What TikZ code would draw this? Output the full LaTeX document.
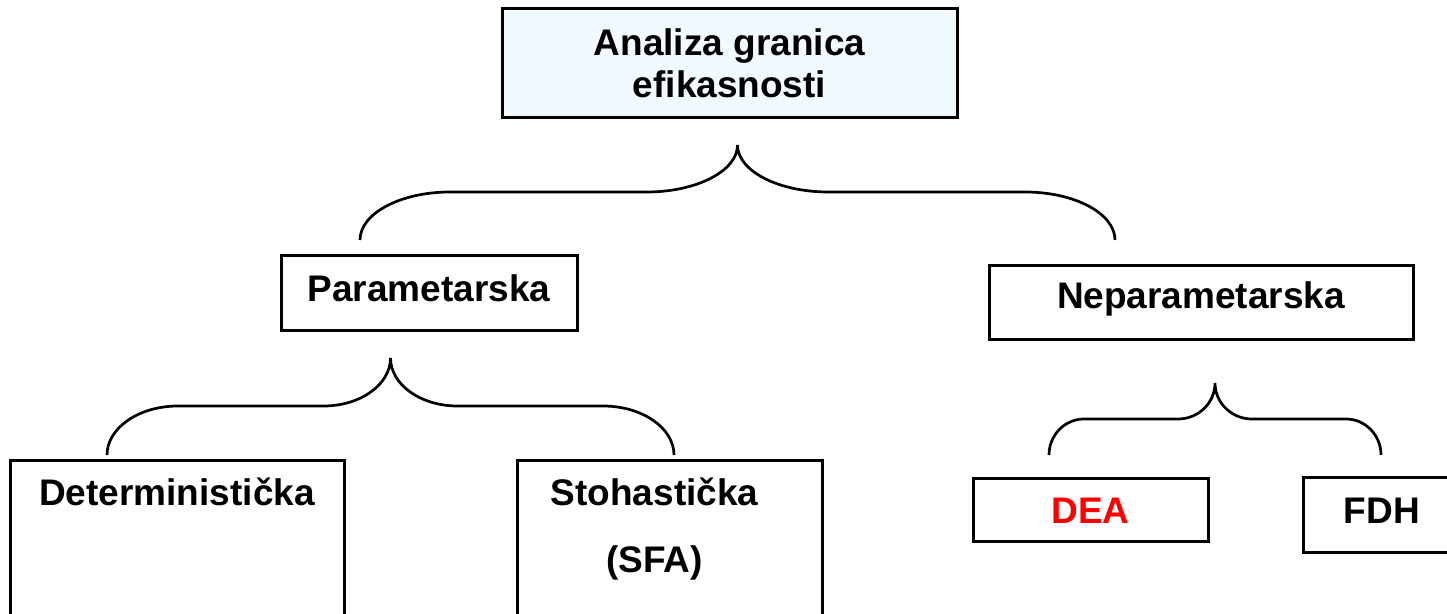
\documentclass[tikz,border=0pt]{standalone}
\usepackage{fontspec}
\setmainfont{Liberation Sans}
\definecolor{topfill}{RGB}{240,250,255}
\definecolor{deared}{RGB}{255,0,0}

% Curly brace opening downwards: #1 left x, #2 right x, #3 y of the ends,
% #4 y of the flat parts, #5 y of the tip, #6 corner run, #7 tip run
\newcommand{\curlybrace}[7]{%
  \pgfmathsetmacro{\bxm}{(#1+#2)/2}%
  \pgfmathsetmacro{\bya}{#3-0.552*(#3-#4)}%
  \pgfmathsetmacro{\byb}{#5+0.552*(#4-#5)}%
  \pgfmathsetmacro{\bxa}{#1+#6}%
  \pgfmathsetmacro{\bxac}{#1+0.448*#6}%
  \pgfmathsetmacro{\bxb}{\bxm-#7}%
  \pgfmathsetmacro{\bxbc}{\bxm-0.448*#7}%
  \pgfmathsetmacro{\bxc}{\bxm+#7}%
  \pgfmathsetmacro{\bxcc}{\bxm+0.448*#7}%
  \pgfmathsetmacro{\bxd}{#2-#6}%
  \pgfmathsetmacro{\bxdc}{#2-0.448*#6}%
  \draw[brace] (#1,#3) .. controls (#1,\bya) and (\bxac,#4) .. (\bxa,#4)
    -- (\bxb,#4) .. controls (\bxbc,#4) and (\bxm,\byb) .. (\bxm,#5)
    .. controls (\bxm,\byb) and (\bxcc,#4) .. (\bxc,#4)
    -- (\bxd,#4) .. controls (\bxdc,#4) and (#2,\bya) .. (#2,#3);
}

\begin{document}
\begin{tikzpicture}[x=1pt,y=-1pt,
  box/.style={draw=black, line width=3pt, fill=white, inner sep=0pt, rectangle},
  txt/.style={font=\fontsize{37}{42}\selectfont\bfseries, inner sep=0pt, align=center},
  brace/.style={line width=2.7pt, line cap=butt}]
\useasboundingbox (0,0) rectangle (1447,613);
\clip (0,0) rectangle (1447,613);

% top level
\node[box, fill=topfill, minimum width=455pt, minimum height=109pt] (root) at (729.5,62.5) {};
\node[txt, anchor=base] (roottxt) at (729.5,97) {Analiza granica\\efikasnosti};

% second level
\node[box, minimum width=296pt, minimum height=75pt] (par) at (429,292.5) {};
\node[txt, anchor=base] (partxt) at (429,301) {Parametarska};
\node[box, minimum width=424pt, minimum height=74pt] (nepar) at (1201,302) {};
\node[txt, anchor=base] (nepartxt) at (1201,308) {Neparametarska};

% third level
\node[box, minimum width=334pt, minimum height=200pt, anchor=north] (det) at (177,459) {};
\node[txt, anchor=base] (dettxt) at (177,505) {Deterministička};
\node[box, minimum width=305pt, minimum height=200pt, anchor=north] (sto) at (669.5,459) {};
\node[txt, anchor=base] (stotxt) at (654.5,505) {Stohastička};
\node[txt, anchor=base] (sfatxt) at (654.5,572) {(SFA)};
\node[box, minimum width=235pt, minimum height=63pt] (dea) at (1090.5,509.5) {};
\node[txt, anchor=base, text=deared] (deatxt) at (1090.5,523) {DEA};
\node[box, minimum width=158pt, minimum height=75pt] (fdh) at (1382,514.5) {};
\node[txt, anchor=base] (fdhtxt) at (1382,523) {FDH};

% braces grouping the children under each parent
\curlybrace{360}{1115}{240}{192}{145}{90}{91}
\curlybrace{107}{674}{455}{406}{358}{71}{67}
\curlybrace{1049}{1381}{455}{419}{383}{35}{37}
\end{tikzpicture}
\end{document}
